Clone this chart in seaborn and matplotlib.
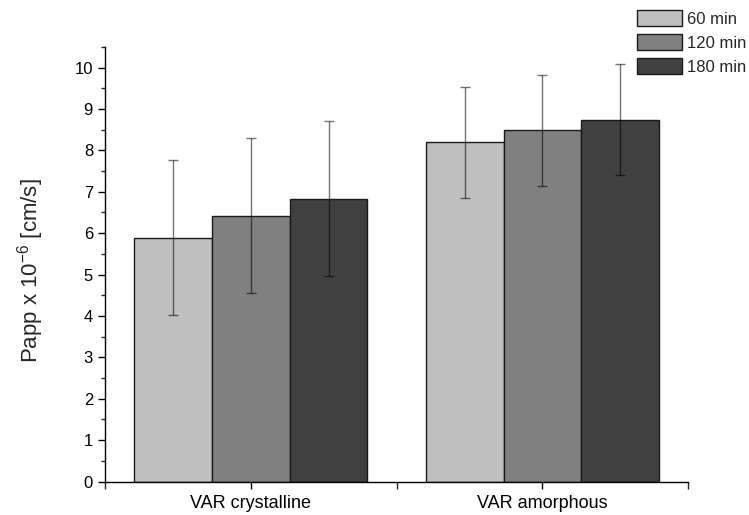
import numpy as np
import pandas as pd
import matplotlib
matplotlib.use("Agg")
import matplotlib.pyplot as plt
from matplotlib.ticker import MultipleLocator, FixedLocator
import seaborn as sns

# values
groups = ["VAR crystalline", "VAR amorphous"]
times = ["60 min", "120 min", "180 min"]
papp_crystalline = [5.89, 6.42, 6.83]
papp_amorphous = [8.20, 8.49, 8.74]
err_crystalline = [1.87, 1.87, 1.87]
err_amorphous = [1.34, 1.34, 1.34]
colors = ["#c0c0c0", "#808080", "#404040"]

df = pd.DataFrame({
    "group": np.repeat(groups, len(times)),
    "time": times * len(groups),
    "papp": papp_crystalline + papp_amorphous,
    "err": err_crystalline + err_amorphous,
})

sns.set_style("ticks")
plt.rcParams["font.family"] = ["Liberation Sans", "DejaVu Sans"]
plt.rcParams["mathtext.fontset"] = "custom"
plt.rcParams["mathtext.rm"] = "Liberation Sans"

fig = plt.figure(figsize=(7.49, 5.15), dpi=100)
ax = fig.add_axes([0.140, 0.065, 0.779, 0.844])

sns.barplot(data=df, x="group", y="papp", hue="time", order=groups, hue_order=times,
            palette=colors, edgecolor="#1a1a1a", linewidth=1.0, saturation=1,
            errorbar=None, width=0.8, ax=ax)

# error bars at the bar centres the library placed
for i, t in enumerate(times):
    cont = ax.containers[i]
    sub = df[df["time"] == t].set_index("group").loc[groups]
    xs = [p.get_x() + p.get_width() / 2 for p in cont.patches]
    ax.errorbar(xs, sub["papp"], yerr=sub["err"], fmt="none", ecolor="black",
                alpha=0.55, elinewidth=1.0, capsize=3.5, capthick=1.0, zorder=3)

ax.set_xlim(-0.5, 1.5)
ax.set_ylim(0, 10.5)
ax.yaxis.set_major_locator(MultipleLocator(1))
ax.yaxis.set_minor_locator(MultipleLocator(0.5))
ax.xaxis.set_minor_locator(FixedLocator([-0.5, 0.5, 1.5]))
ax.tick_params(axis="both", which="major", direction="out", length=5, width=1,
               labelsize=12, colors="black")
ax.tick_params(axis="x", which="major", pad=5, labelsize=13)
ax.tick_params(axis="y", which="minor", direction="out", length=3, width=1)
ax.tick_params(axis="x", which="minor", direction="out", length=5, width=1)
sns.despine(ax=ax)
for s in ["left", "bottom"]:
    ax.spines[s].set_color("black")
    ax.spines[s].set_linewidth(1.0)

ax.set_xlabel("")
ax.set_ylabel("Papp x 10$^{\\mathrm{-6}}$ [cm/s]", fontsize=16)
ax.yaxis.set_label_coords(-0.101, 0.485)

handles, labels = ax.get_legend_handles_labels()
ax.legend(handles, labels, loc="upper left", bbox_to_anchor=(0.850, 0.980),
          bbox_transform=fig.transFigure, frameon=False, fontsize=12,
          borderpad=0, borderaxespad=0, handlelength=2.7, handleheight=1.08,
          labelspacing=0.45, handletextpad=0.3)

fig.savefig("out.png", dpi=100)
